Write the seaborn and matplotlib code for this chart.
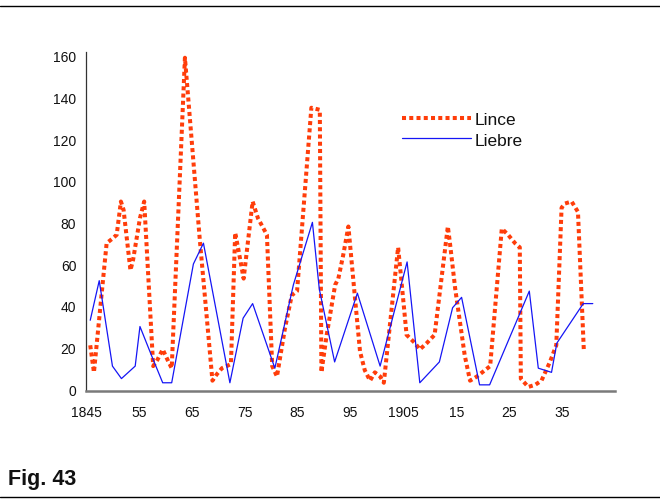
import numpy as np
import pandas as pd
import matplotlib
matplotlib.use("Agg")
import matplotlib.pyplot as plt
import matplotlib.font_manager as fm
import seaborn as sns

# ---- data ----
lince_years = [1845.8, 1846.5, 1848.9, 1849.9, 1850.8, 1851.6, 1852.1, 1853.4, 1853.9, 1855.2,
               1856.0, 1857.7, 1858.5, 1859.5, 1860.6, 1861.2, 1863.7, 1866.5, 1868.9, 1869.7,
               1870.7, 1871.6, 1872.4, 1873.2, 1873.8, 1874.8, 1876.5, 1877.5, 1879.2, 1880.2,
               1881.1, 1882.6, 1883.9, 1884.9, 1887.6, 1889.2, 1889.5, 1890.5, 1892.1, 1892.7,
               1893.6, 1894.6, 1895.8, 1896.8, 1897.7, 1898.7, 1899.6, 1900.6, 1901.3, 1904.0,
               1904.7, 1905.6, 1907.2, 1908.1, 1909.4, 1910.9, 1913.4, 1913.8, 1914.8, 1915.7,
               1916.6, 1917.6, 1918.9, 1920.4, 1921.4, 1923.6, 1924.8, 1926.1, 1927.0, 1927.2,
               1928.6, 1929.9, 1931.1, 1932.7, 1933.9, 1934.9, 1935.5, 1936.8, 1938.0, 1939.1]
lince_values = [21, 8, 70, 72, 74, 90, 86, 57, 62, 82,
                90, 11, 14, 19, 13, 10, 159, 72, 4, 7,
                10, 11, 12, 75, 67, 53, 90, 82, 74, 11,
                6, 29, 45, 47, 135, 134, 8, 26, 50, 53,
                64, 78, 45, 18, 9, 4, 8, 6, 3, 68,
                50, 26, 22, 19, 22, 26, 78, 70, 48, 32,
                16, 4, 6, 9, 11, 77, 74, 70, 68, 5,
                1, 2, 4, 13, 21, 87, 89, 90, 85, 19]

liebre_years = [1845.8, 1847.5, 1850.0, 1851.7, 1854.3, 1855.2, 1857.4, 1859.5, 1861.2, 1865.3,
                1867.2, 1872.2, 1874.7, 1876.5, 1880.7, 1884.2, 1887.8, 1889.1, 1892.0, 1896.3,
                1900.6, 1905.7, 1908.1, 1911.8, 1914.3, 1916.0, 1919.4, 1921.3, 1928.8, 1930.5,
                1933.0, 1934.0, 1939.0, 1940.8]
liebre_values = [33, 52, 11, 5, 11, 30, 16, 3, 3, 60,
                 70, 3, 34, 41, 10, 50, 80, 48, 13, 46,
                 11, 61, 3, 13, 39, 44, 2, 2, 47, 10,
                 8, 22, 41, 41]

tick_years = [1845, 1855, 1865, 1875, 1885, 1895, 1905, 1915, 1925, 1935]
tick_labels = ["1845", "55", "65", "75", "85", "95", "1905", "15", "25", "35"]
y_ticks = [0, 20, 40, 60, 80, 100, 120, 140, 160]
series_names = ["Lince", "Liebre"]
caption = "Fig. 43"

# ---- styling ----
sns.set_style("white")
plt.rcParams['font.family'] = ['Liberation Sans', 'DejaVu Sans']
names = {f.name for f in fm.fontManager.ttflist}
tick_family = ['Liberation Sans Narrow', 'Liberation Sans'] if 'Liberation Sans Narrow' in names else ['Liberation Sans']
tick_size = 11.5 if 'Liberation Sans Narrow' in names else 10

RED = '#FF3D0A'
BLUE = '#1515F5'

fig = plt.figure(figsize=(6.6, 5.02), dpi=100)
ax = fig.add_axes([86/660, 1-392.1/502, (615-86)/660, (392.1-52.5)/502])

df_l = pd.DataFrame({"year": lince_years, "value": lince_values})
df_h = pd.DataFrame({"year": liebre_years, "value": liebre_values})

sns.lineplot(data=df_l, x="year", y="value", ax=ax, color=RED, linewidth=2.9,
             linestyle=(0, (1.0, 0.8)), estimator=None, sort=False, label=series_names[0])
sns.lineplot(data=df_h, x="year", y="value", ax=ax, color=BLUE, linewidth=0.9,
             estimator=None, sort=False, label=series_names[1])

ax.set_xlim(1845, 1945)
ax.set_ylim(-1, 162)
ax.set_xticks(tick_years)
ax.set_xticklabels(tick_labels, family=tick_family, fontsize=tick_size)
ax.set_yticks(y_ticks)
ax.set_yticklabels([str(v) for v in y_ticks], family=tick_family, fontsize=tick_size)
ax.tick_params(axis='both', length=0, colors='#111111')
ax.tick_params(axis='y', pad=7)
ax.tick_params(axis='x', pad=10)
ax.set_xlabel("")
ax.set_ylabel("")
ax.grid(False)
for s in ['top', 'right']:
    ax.spines[s].set_visible(False)
ax.spines['left'].set_color('#333333')
ax.spines['left'].set_linewidth(0.9)
ax.spines['bottom'].set_color('#7a7a7a')
ax.spines['bottom'].set_linewidth(1.8)

leg = ax.legend(loc='upper left', bbox_to_anchor=(402/660, 1-112.5/502), bbox_transform=fig.transFigure,
                frameon=False, fontsize=12.5, handlelength=4.0, handletextpad=0.2,
                labelspacing=0.33, borderpad=0, borderaxespad=0)
for t in leg.get_texts():
    t.set_color('#111111')

# caption and rules
fig.text(8/660, 1-485/502, caption, fontsize=15.5, fontweight='bold', ha='left', va='baseline', color='#111111')
fig.add_artist(plt.Line2D([0, 1], [1-7/502, 1-7/502], transform=fig.transFigure, color='black', linewidth=1))
fig.add_artist(plt.Line2D([0, 1], [1-498/502, 1-498/502], transform=fig.transFigure, color='black', linewidth=1))

fig.savefig("out.png", dpi=100)
